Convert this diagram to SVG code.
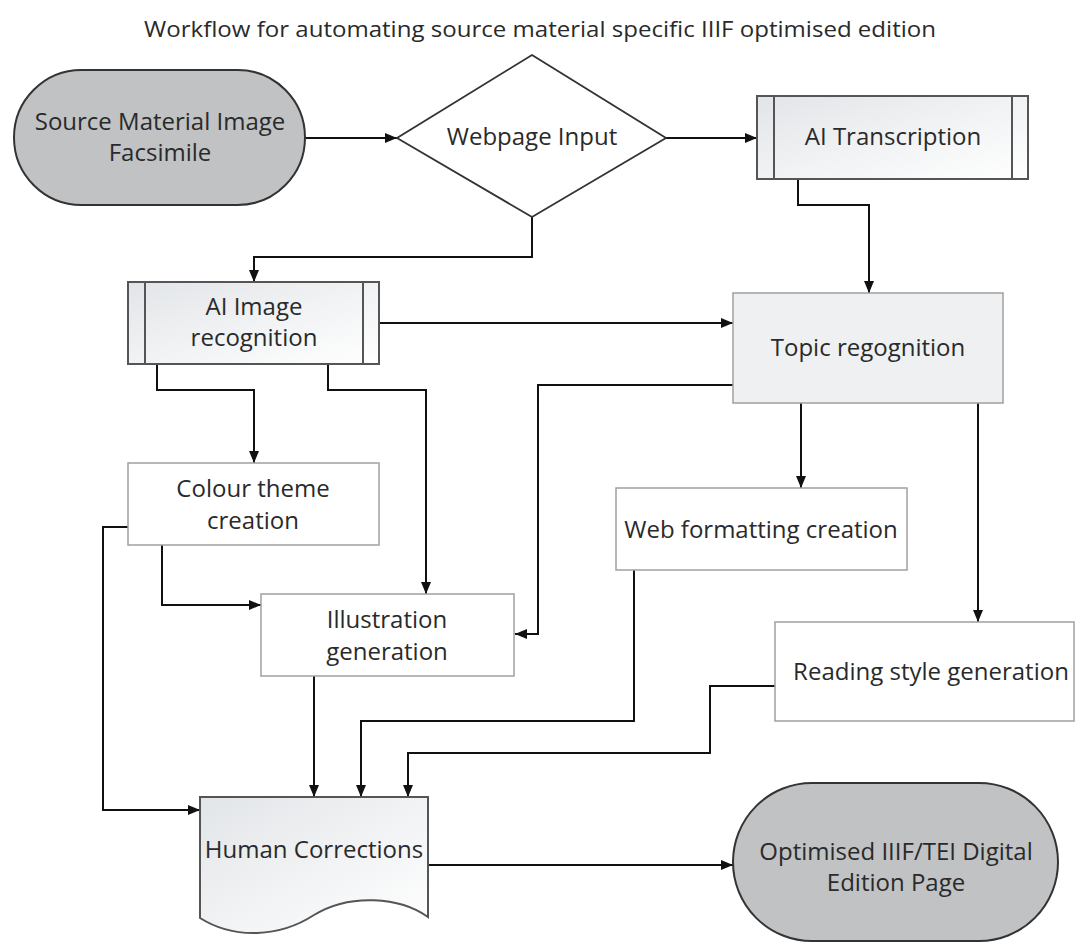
<svg xmlns="http://www.w3.org/2000/svg" width="1080" height="944" viewBox="0 0 1080 944">
<defs>
<linearGradient id="g1" x1="0" y1="0" x2="1" y2="1"><stop offset="0" stop-color="#e2e5e8"/><stop offset="1" stop-color="#ffffff"/></linearGradient>
<marker id="ah" viewBox="0 0 12 10" refX="12" refY="5" markerWidth="12" markerHeight="10" markerUnits="userSpaceOnUse" orient="auto"><path d="M0,0 L12,5 L0,10 Z" fill="#111"/></marker>
<style>
text{font-family:"Open Sans","Liberation Sans",sans-serif;fill:#2a2a2a;text-anchor:middle}
.t{font-size:24px}
.ttl{font-size:21px}
.term{fill:#c0c2c4;stroke:#333;stroke-width:2}
.proc{fill:url(#g1);stroke:#555;stroke-width:2}
.plain{fill:#fff;stroke:#a0a0a0;stroke-width:1.5}
.topic{fill:#eef0f2;stroke:#a0a0a0;stroke-width:1.5}
.dia{fill:#fff;stroke:#333;stroke-width:1.8}
.c{fill:none;stroke:#111;stroke-width:2;marker-end:url(#ah)}
.inner{stroke:#555;stroke-width:2}
</style>
</defs>
<rect width="1080" height="944" fill="#fff"/>
<text class="ttl" x="540" y="37" textLength="792" lengthAdjust="spacingAndGlyphs">Workflow for automating source material specific IIIF optimised edition</text>

<g id="connectors">
<path class="c" d="M305,138 H397"/>
<path class="c" d="M666,138 H757"/>
<path class="c" d="M798,179 V205 H869 V293"/>
<path class="c" d="M532,217 V257 H254 V282"/>
<path class="c" d="M379,323 H733"/>
<path class="c" d="M733,385 H538 V634 H515"/>
<path class="c" d="M801,403 V488"/>
<path class="c" d="M978,403 V622"/>
<path class="c" d="M157,364 V390 H254 V463"/>
<path class="c" d="M328,364 V390 H426 V594"/>
<path class="c" d="M128,527 H103 V810 H200"/>
<path class="c" d="M162,545 V605 H261"/>
<path class="c" d="M314,676 V797"/>
<path class="c" d="M634,570 V721 H361 V797"/>
<path class="c" d="M775,686 H710 V753 H408 V797"/>
<path class="c" d="M428,865 H733"/>
</g>

<g id="source">
<rect class="term" x="14" y="70" width="291" height="135" rx="67.5"/>
<text class="t" x="160" y="130">Source Material Image</text>
<text class="t" x="160" y="161">Facsimile</text>
</g>

<g id="webpage">
<polygon class="dia" points="532,55 666,138 532,217 397,138"/>
<text class="t" x="532" y="145">Webpage Input</text>
</g>

<g id="transcription">
<rect class="proc" x="757" y="96" width="271" height="83"/>
<line class="inner" x1="774" y1="96" x2="774" y2="179"/>
<line class="inner" x1="1012" y1="96" x2="1012" y2="179"/>
<text class="t" x="893" y="145">AI Transcription</text>
</g>

<g id="imagerec">
<rect class="proc" x="128" y="282" width="251" height="82"/>
<line class="inner" x1="145" y1="282" x2="145" y2="364"/>
<line class="inner" x1="363" y1="282" x2="363" y2="364"/>
<text class="t" x="254" y="315">AI Image</text>
<text class="t" x="254" y="346">recognition</text>
</g>

<g id="topic">
<rect class="topic" x="733" y="293" width="270" height="110"/>
<text class="t" x="868" y="356">Topic regognition</text>
</g>

<g id="colour">
<rect class="plain" x="128" y="463" width="251" height="82"/>
<text class="t" x="253" y="497">Colour theme</text>
<text class="t" x="253" y="529">creation</text>
</g>

<g id="illustration">
<rect class="plain" x="261" y="594" width="253" height="82"/>
<text class="t" x="387" y="628">Illustration</text>
<text class="t" x="387" y="660">generation</text>
</g>

<g id="webformat">
<rect class="plain" x="616" y="488" width="291" height="82"/>
<text class="t" x="761" y="538">Web formatting creation</text>
</g>

<g id="reading">
<rect class="plain" x="775" y="622" width="299" height="99"/>
<text class="t" x="931" y="680">Reading style generation</text>
</g>

<g id="human">
<path class="proc" d="M200,797 H428 V917 C400,897 350,893 314,915 C280,937 235,940 200,918 Z"/>
<text class="t" x="314" y="858">Human Corrections</text>
</g>

<g id="optimised">
<rect class="term" x="733" y="783" width="325" height="158" rx="79"/>
<text class="t" x="896" y="860">Optimised IIIF/TEI Digital</text>
<text class="t" x="896" y="891">Edition Page</text>
</g>
</svg>
